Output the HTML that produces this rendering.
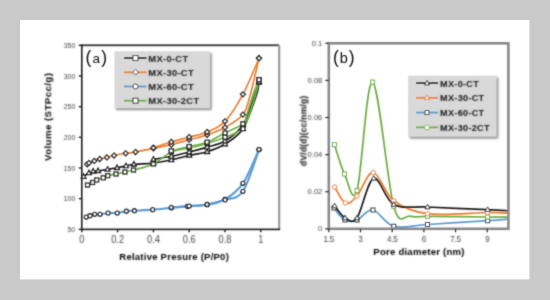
<!DOCTYPE html>
<html><head><meta charset="utf-8"><style>
html,body{margin:0;padding:0;width:550px;height:300px;overflow:hidden;background:#c9c9c9}
svg{display:block}
text{font-family:"Liberation Sans",sans-serif}
</style></head><body>
<svg width="550" height="300" viewBox="0 0 550 300">
<rect x="0" y="0" width="550" height="300" fill="#c9c9c9"/>
<rect x="20" y="20" width="509.4" height="259.4" fill="#ffffff"/>
<filter id="bl" x="-5%" y="-5%" width="110%" height="110%"><feConvolveMatrix order="3" kernelMatrix="0.03 0.09 0.03 0.09 0.52 0.09 0.03 0.09 0.03" edgeMode="none" preserveAlpha="false"/></filter><filter id="tb" x="-50%" y="-50%" width="200%" height="200%"><feConvolveMatrix order="3" kernelMatrix="0.025 0.075 0.025 0.075 0.6 0.075 0.025 0.075 0.025" edgeMode="none" preserveAlpha="false"/></filter>
<g filter="url(#bl)">
<path d="M83.59,176.55 C84.48,175.94 87.38,173.75 88.96,172.87 C90.54,171.99 91.56,171.63 93.08,171.28 C94.60,170.93 95.67,171.12 98.09,170.79 C100.51,170.46 104.41,169.82 107.58,169.32 C110.74,168.82 113.99,168.37 117.06,167.78 C120.14,167.20 123.21,166.40 126.01,165.82 C128.82,165.24 129.32,164.75 133.89,164.29 C138.45,163.83 147.16,163.78 153.40,163.06 C159.64,162.34 165.33,161.26 171.30,159.99 C177.27,158.73 183.23,156.82 189.20,155.45 C195.17,154.08 201.13,153.68 207.10,151.77 C213.07,149.87 219.03,147.89 225.00,144.05 C230.97,140.20 237.68,136.79 242.90,128.71 C248.12,120.64 253.64,103.36 256.32,95.59 C259.01,87.82 258.56,84.35 259.01,82.10" fill="none" stroke="#1f1f1f" stroke-width="1.65"/>
<path d="M259.01,82.10 C258.26,84.35 257.22,88.44 254.53,95.59 C251.85,102.75 247.82,117.47 242.90,125.03 C237.98,132.60 230.97,137.30 225.00,140.98 C219.03,144.66 213.07,145.27 207.10,147.11 C201.13,148.95 195.17,150.49 189.20,152.02 C183.23,153.55 177.27,155.09 171.30,156.31 C165.33,157.54 156.38,158.87 153.40,159.38" fill="none" stroke="#1f1f1f" stroke-width="1.65"/>
<path d="M87.17,164.29 C87.47,164.07 87.77,163.55 88.96,163.00 C90.15,162.45 92.54,161.64 94.33,160.97 C96.12,160.31 97.61,159.59 99.70,159.01 C101.79,158.43 104.47,158.06 106.86,157.48 C109.25,156.90 110.89,156.21 114.02,155.52 C117.15,154.82 122.08,153.89 125.66,153.31 C129.24,152.73 130.88,152.85 135.50,152.02 C140.12,151.19 147.43,149.57 153.40,148.34 C159.37,147.11 165.33,146.09 171.30,144.66 C177.27,143.23 183.23,141.39 189.20,139.75 C195.17,138.12 201.13,136.89 207.10,134.85 C213.07,132.80 219.03,130.86 225.00,127.49 C230.97,124.11 238.72,119.92 242.90,114.61 C247.08,109.29 247.38,105.00 250.06,95.59 C252.75,86.19 257.52,64.42 259.01,58.18" fill="none" stroke="#ed7d31" stroke-width="1.65"/>
<path d="M259.01,58.18 C256.32,64.21 248.57,83.84 242.90,94.37 C237.23,104.90 230.97,115.08 225.00,121.35 C219.03,127.63 213.07,129.41 207.10,132.03 C201.13,134.64 195.17,135.40 189.20,137.05 C183.23,138.71 177.27,140.18 171.30,141.96 C165.33,143.74 156.38,146.77 153.40,147.73" fill="none" stroke="#ed7d31" stroke-width="1.65"/>
<path d="M86.27,217.03 C86.90,216.81 88.63,216.14 90.03,215.68 C91.44,215.22 93.02,214.51 94.69,214.27 C96.36,214.04 97.82,214.49 100.06,214.27 C102.30,214.06 105.25,213.20 108.11,212.99 C110.98,212.77 114.20,213.28 117.24,212.99 C120.28,212.69 123.51,211.58 126.37,211.21 C129.23,210.83 130.04,210.97 134.43,210.72 C138.81,210.46 146.54,210.15 152.68,209.67 C158.83,209.19 165.51,208.39 171.30,207.83 C177.09,207.28 181.44,206.87 187.41,206.36 C193.38,205.85 200.83,205.95 207.10,204.77 C213.37,203.58 219.03,202.82 225.00,199.25 C230.97,195.67 237.23,191.58 242.90,183.30 C248.57,175.02 256.32,155.19 259.01,149.57" fill="none" stroke="#5b9bd5" stroke-width="2.1"/>
<path d="M259.01,149.57 C256.32,156.52 248.57,182.89 242.90,191.27 C237.23,199.66 230.97,197.66 225.00,199.86 C219.03,202.06 213.07,203.44 207.10,204.46 C201.13,205.48 195.17,205.48 189.20,205.99 C183.23,206.50 174.28,207.27 171.30,207.53" fill="none" stroke="#5b9bd5" stroke-width="2.1"/>
<path d="M87.53,185.02 C88.36,184.60 91.02,183.34 92.54,182.50 C94.06,181.66 94.87,180.78 96.66,179.99 C98.45,179.20 101.43,178.51 103.28,177.78 C105.13,177.05 105.64,176.27 107.75,175.63 C109.87,175.00 113.12,174.58 115.99,173.98 C118.85,173.37 122.02,172.68 124.94,172.01 C127.86,171.35 128.79,171.33 133.53,169.99 C138.27,168.65 147.11,166.98 153.40,163.98 C159.69,160.98 165.33,154.69 171.30,152.02 C177.27,149.35 183.23,149.40 189.20,147.97 C195.17,146.54 201.13,145.21 207.10,143.43 C213.07,141.65 219.03,139.75 225.00,137.30 C230.97,134.85 238.87,132.50 242.90,128.71 C246.93,124.93 247.11,120.19 249.17,114.61 C251.22,109.03 253.61,101.05 255.25,95.23 C256.89,89.40 258.38,82.24 259.01,79.65" fill="none" stroke="#70ad47" stroke-width="1.65"/>
<path d="M259.01,79.65 C258.00,82.24 254.95,89.40 252.92,95.23 C250.90,101.05 248.51,109.84 246.84,114.61 C245.17,119.37 246.54,120.74 242.90,123.81 C239.26,126.87 230.97,129.94 225.00,133.01 C219.03,136.07 213.07,139.96 207.10,142.21 C201.13,144.46 195.17,145.07 189.20,146.50 C183.23,147.93 174.28,150.08 171.30,150.79" fill="none" stroke="#70ad47" stroke-width="1.65"/>
<path d="M83.59,173.96 L85.99,178.28 L81.19,178.28Z" fill="#fff" stroke="#1a1a1a" stroke-width="1.3"/>
<path d="M88.96,170.28 L91.36,174.60 L86.56,174.60Z" fill="#fff" stroke="#1a1a1a" stroke-width="1.3"/>
<path d="M93.08,168.69 L95.48,173.01 L90.68,173.01Z" fill="#fff" stroke="#1a1a1a" stroke-width="1.3"/>
<path d="M98.09,168.20 L100.49,172.52 L95.69,172.52Z" fill="#fff" stroke="#1a1a1a" stroke-width="1.3"/>
<path d="M107.58,166.72 L109.98,171.04 L105.18,171.04Z" fill="#fff" stroke="#1a1a1a" stroke-width="1.3"/>
<path d="M117.06,165.19 L119.46,169.51 L114.66,169.51Z" fill="#fff" stroke="#1a1a1a" stroke-width="1.3"/>
<path d="M126.01,163.23 L128.41,167.55 L123.61,167.55Z" fill="#fff" stroke="#1a1a1a" stroke-width="1.3"/>
<path d="M133.89,161.69 L136.29,166.01 L131.49,166.01Z" fill="#fff" stroke="#1a1a1a" stroke-width="1.3"/>
<path d="M153.40,160.47 L155.80,164.79 L151.00,164.79Z" fill="#fff" stroke="#1a1a1a" stroke-width="1.3"/>
<path d="M171.30,157.40 L173.70,161.72 L168.90,161.72Z" fill="#fff" stroke="#1a1a1a" stroke-width="1.3"/>
<path d="M189.20,152.86 L191.60,157.18 L186.80,157.18Z" fill="#fff" stroke="#1a1a1a" stroke-width="1.3"/>
<path d="M207.10,149.18 L209.50,153.50 L204.70,153.50Z" fill="#fff" stroke="#1a1a1a" stroke-width="1.3"/>
<path d="M225.00,141.45 L227.40,145.77 L222.60,145.77Z" fill="#fff" stroke="#1a1a1a" stroke-width="1.3"/>
<path d="M242.90,126.12 L245.30,130.44 L240.50,130.44Z" fill="#fff" stroke="#1a1a1a" stroke-width="1.3"/>
<path d="M259.01,79.51 L261.41,83.83 L256.61,83.83Z" fill="#fff" stroke="#1a1a1a" stroke-width="1.3"/>
<path d="M259.01,79.51 L261.41,83.83 L256.61,83.83Z" fill="#fff" stroke="#1a1a1a" stroke-width="1.3"/>
<path d="M242.90,122.44 L245.30,126.76 L240.50,126.76Z" fill="#fff" stroke="#1a1a1a" stroke-width="1.3"/>
<path d="M225.00,138.39 L227.40,142.71 L222.60,142.71Z" fill="#fff" stroke="#1a1a1a" stroke-width="1.3"/>
<path d="M207.10,144.52 L209.50,148.84 L204.70,148.84Z" fill="#fff" stroke="#1a1a1a" stroke-width="1.3"/>
<path d="M189.20,149.43 L191.60,153.75 L186.80,153.75Z" fill="#fff" stroke="#1a1a1a" stroke-width="1.3"/>
<path d="M171.30,153.72 L173.70,158.04 L168.90,158.04Z" fill="#fff" stroke="#1a1a1a" stroke-width="1.3"/>
<path d="M153.40,156.79 L155.80,161.11 L151.00,161.11Z" fill="#fff" stroke="#1a1a1a" stroke-width="1.3"/>
<path d="M87.17,161.84 L89.62,164.29 L87.17,166.74 L84.72,164.29Z" fill="#fff" stroke="#1a1a1a" stroke-width="1.3"/>
<path d="M88.96,160.55 L91.41,163.00 L88.96,165.45 L86.51,163.00Z" fill="#fff" stroke="#1a1a1a" stroke-width="1.3"/>
<path d="M94.33,158.52 L96.78,160.97 L94.33,163.42 L91.88,160.97Z" fill="#fff" stroke="#1a1a1a" stroke-width="1.3"/>
<path d="M99.70,156.56 L102.15,159.01 L99.70,161.46 L97.25,159.01Z" fill="#fff" stroke="#1a1a1a" stroke-width="1.3"/>
<path d="M106.86,155.03 L109.31,157.48 L106.86,159.93 L104.41,157.48Z" fill="#fff" stroke="#1a1a1a" stroke-width="1.3"/>
<path d="M114.02,153.07 L116.47,155.52 L114.02,157.97 L111.57,155.52Z" fill="#fff" stroke="#1a1a1a" stroke-width="1.3"/>
<path d="M125.66,150.86 L128.10,153.31 L125.66,155.76 L123.20,153.31Z" fill="#fff" stroke="#1a1a1a" stroke-width="1.3"/>
<path d="M135.50,149.57 L137.95,152.02 L135.50,154.47 L133.05,152.02Z" fill="#fff" stroke="#1a1a1a" stroke-width="1.3"/>
<path d="M153.40,145.89 L155.85,148.34 L153.40,150.79 L150.95,148.34Z" fill="#fff" stroke="#1a1a1a" stroke-width="1.3"/>
<path d="M171.30,142.21 L173.75,144.66 L171.30,147.11 L168.85,144.66Z" fill="#fff" stroke="#1a1a1a" stroke-width="1.3"/>
<path d="M189.20,137.30 L191.65,139.75 L189.20,142.20 L186.75,139.75Z" fill="#fff" stroke="#1a1a1a" stroke-width="1.3"/>
<path d="M207.10,132.40 L209.55,134.85 L207.10,137.30 L204.65,134.85Z" fill="#fff" stroke="#1a1a1a" stroke-width="1.3"/>
<path d="M225.00,125.04 L227.45,127.49 L225.00,129.94 L222.55,127.49Z" fill="#fff" stroke="#1a1a1a" stroke-width="1.3"/>
<path d="M242.90,112.16 L245.35,114.61 L242.90,117.06 L240.45,114.61Z" fill="#fff" stroke="#1a1a1a" stroke-width="1.3"/>
<path d="M259.01,55.73 L261.46,58.18 L259.01,60.63 L256.56,58.18Z" fill="#fff" stroke="#1a1a1a" stroke-width="1.3"/>
<path d="M259.01,55.73 L261.46,58.18 L259.01,60.63 L256.56,58.18Z" fill="#fff" stroke="#1a1a1a" stroke-width="1.3"/>
<path d="M242.90,91.92 L245.35,94.37 L242.90,96.82 L240.45,94.37Z" fill="#fff" stroke="#1a1a1a" stroke-width="1.3"/>
<path d="M225.00,118.90 L227.45,121.35 L225.00,123.80 L222.55,121.35Z" fill="#fff" stroke="#1a1a1a" stroke-width="1.3"/>
<path d="M207.10,129.58 L209.55,132.03 L207.10,134.48 L204.65,132.03Z" fill="#fff" stroke="#1a1a1a" stroke-width="1.3"/>
<path d="M189.20,134.60 L191.65,137.05 L189.20,139.50 L186.75,137.05Z" fill="#fff" stroke="#1a1a1a" stroke-width="1.3"/>
<path d="M171.30,139.51 L173.75,141.96 L171.30,144.41 L168.85,141.96Z" fill="#fff" stroke="#1a1a1a" stroke-width="1.3"/>
<path d="M153.40,145.28 L155.85,147.73 L153.40,150.18 L150.95,147.73Z" fill="#fff" stroke="#1a1a1a" stroke-width="1.3"/>
<circle cx="86.27" cy="217.03" r="1.95" fill="#fff" stroke="#1a1a1a" stroke-width="1.3"/>
<circle cx="90.03" cy="215.68" r="1.95" fill="#fff" stroke="#1a1a1a" stroke-width="1.3"/>
<circle cx="94.69" cy="214.27" r="1.95" fill="#fff" stroke="#1a1a1a" stroke-width="1.3"/>
<circle cx="100.06" cy="214.27" r="1.95" fill="#fff" stroke="#1a1a1a" stroke-width="1.3"/>
<circle cx="108.11" cy="212.99" r="1.95" fill="#fff" stroke="#1a1a1a" stroke-width="1.3"/>
<circle cx="117.24" cy="212.99" r="1.95" fill="#fff" stroke="#1a1a1a" stroke-width="1.3"/>
<circle cx="126.37" cy="211.21" r="1.95" fill="#fff" stroke="#1a1a1a" stroke-width="1.3"/>
<circle cx="134.43" cy="210.72" r="1.95" fill="#fff" stroke="#1a1a1a" stroke-width="1.3"/>
<circle cx="152.68" cy="209.67" r="1.95" fill="#fff" stroke="#1a1a1a" stroke-width="1.3"/>
<circle cx="171.30" cy="207.83" r="1.95" fill="#fff" stroke="#1a1a1a" stroke-width="1.3"/>
<circle cx="187.41" cy="206.36" r="1.95" fill="#fff" stroke="#1a1a1a" stroke-width="1.3"/>
<circle cx="207.10" cy="204.77" r="1.95" fill="#fff" stroke="#1a1a1a" stroke-width="1.3"/>
<circle cx="225.00" cy="199.25" r="1.95" fill="#fff" stroke="#1a1a1a" stroke-width="1.3"/>
<circle cx="242.90" cy="183.30" r="1.95" fill="#fff" stroke="#1a1a1a" stroke-width="1.3"/>
<circle cx="259.01" cy="149.57" r="1.95" fill="#fff" stroke="#1a1a1a" stroke-width="1.3"/>
<circle cx="259.01" cy="149.57" r="1.95" fill="#fff" stroke="#1a1a1a" stroke-width="1.3"/>
<circle cx="242.90" cy="191.27" r="1.95" fill="#fff" stroke="#1a1a1a" stroke-width="1.3"/>
<circle cx="225.00" cy="199.86" r="1.95" fill="#fff" stroke="#1a1a1a" stroke-width="1.3"/>
<circle cx="207.10" cy="204.46" r="1.95" fill="#fff" stroke="#1a1a1a" stroke-width="1.3"/>
<circle cx="189.20" cy="205.99" r="1.95" fill="#fff" stroke="#1a1a1a" stroke-width="1.3"/>
<circle cx="171.30" cy="207.53" r="1.95" fill="#fff" stroke="#1a1a1a" stroke-width="1.3"/>
<rect x="85.58" y="183.07" width="3.90" height="3.90" fill="#fff" stroke="#1a1a1a" stroke-width="1.3"/>
<rect x="90.59" y="180.55" width="3.90" height="3.90" fill="#fff" stroke="#1a1a1a" stroke-width="1.3"/>
<rect x="94.71" y="178.04" width="3.90" height="3.90" fill="#fff" stroke="#1a1a1a" stroke-width="1.3"/>
<rect x="101.33" y="175.83" width="3.90" height="3.90" fill="#fff" stroke="#1a1a1a" stroke-width="1.3"/>
<rect x="105.80" y="173.68" width="3.90" height="3.90" fill="#fff" stroke="#1a1a1a" stroke-width="1.3"/>
<rect x="114.04" y="172.03" width="3.90" height="3.90" fill="#fff" stroke="#1a1a1a" stroke-width="1.3"/>
<rect x="122.99" y="170.06" width="3.90" height="3.90" fill="#fff" stroke="#1a1a1a" stroke-width="1.3"/>
<rect x="131.58" y="168.04" width="3.90" height="3.90" fill="#fff" stroke="#1a1a1a" stroke-width="1.3"/>
<rect x="151.45" y="162.03" width="3.90" height="3.90" fill="#fff" stroke="#1a1a1a" stroke-width="1.3"/>
<rect x="169.35" y="150.07" width="3.90" height="3.90" fill="#fff" stroke="#1a1a1a" stroke-width="1.3"/>
<rect x="187.25" y="146.02" width="3.90" height="3.90" fill="#fff" stroke="#1a1a1a" stroke-width="1.3"/>
<rect x="205.15" y="141.48" width="3.90" height="3.90" fill="#fff" stroke="#1a1a1a" stroke-width="1.3"/>
<rect x="223.05" y="135.35" width="3.90" height="3.90" fill="#fff" stroke="#1a1a1a" stroke-width="1.3"/>
<rect x="240.95" y="126.76" width="3.90" height="3.90" fill="#fff" stroke="#1a1a1a" stroke-width="1.3"/>
<rect x="257.06" y="77.70" width="3.90" height="3.90" fill="#fff" stroke="#1a1a1a" stroke-width="1.3"/>
<rect x="257.06" y="77.70" width="3.90" height="3.90" fill="#fff" stroke="#1a1a1a" stroke-width="1.3"/>
<rect x="240.95" y="121.86" width="3.90" height="3.90" fill="#fff" stroke="#1a1a1a" stroke-width="1.3"/>
<rect x="223.05" y="131.06" width="3.90" height="3.90" fill="#fff" stroke="#1a1a1a" stroke-width="1.3"/>
<rect x="205.15" y="140.26" width="3.90" height="3.90" fill="#fff" stroke="#1a1a1a" stroke-width="1.3"/>
<rect x="187.25" y="144.55" width="3.90" height="3.90" fill="#fff" stroke="#1a1a1a" stroke-width="1.3"/>
<rect x="169.35" y="148.84" width="3.90" height="3.90" fill="#fff" stroke="#1a1a1a" stroke-width="1.3"/>
<line x1="81.8" y1="45.3" x2="279.2" y2="45.3" stroke="#4a4a4a" stroke-width="2"/>
<line x1="279.2" y1="45.3" x2="279.2" y2="229.3" stroke="#9a9a9a" stroke-width="2.2"/>
<line x1="81.8" y1="44.3" x2="81.8" y2="230.3" stroke="#2a2a2a" stroke-width="1.7"/>
<line x1="80.8" y1="229.3" x2="280.2" y2="229.3" stroke="#2a2a2a" stroke-width="1.7"/>
<line x1="78.8" y1="45.30" x2="81.8" y2="45.30" stroke="#2a2a2a" stroke-width="1.5"/>
<text filter="url(#tb)" transform="translate(75.20,47.90) scale(0.86,1)" text-anchor="end" font-size="8" fill="#444">350</text>
<line x1="78.8" y1="75.97" x2="81.8" y2="75.97" stroke="#2a2a2a" stroke-width="1.5"/>
<text filter="url(#tb)" transform="translate(75.20,78.57) scale(0.86,1)" text-anchor="end" font-size="8" fill="#444">300</text>
<line x1="78.8" y1="106.63" x2="81.8" y2="106.63" stroke="#2a2a2a" stroke-width="1.5"/>
<text filter="url(#tb)" transform="translate(75.20,109.23) scale(0.86,1)" text-anchor="end" font-size="8" fill="#444">250</text>
<line x1="78.8" y1="137.30" x2="81.8" y2="137.30" stroke="#2a2a2a" stroke-width="1.5"/>
<text filter="url(#tb)" transform="translate(75.20,139.90) scale(0.86,1)" text-anchor="end" font-size="8" fill="#444">200</text>
<line x1="78.8" y1="167.97" x2="81.8" y2="167.97" stroke="#2a2a2a" stroke-width="1.5"/>
<text filter="url(#tb)" transform="translate(75.20,170.57) scale(0.86,1)" text-anchor="end" font-size="8" fill="#444">150</text>
<line x1="78.8" y1="198.63" x2="81.8" y2="198.63" stroke="#2a2a2a" stroke-width="1.5"/>
<text filter="url(#tb)" transform="translate(75.20,201.23) scale(0.86,1)" text-anchor="end" font-size="8" fill="#444">100</text>
<line x1="78.8" y1="229.30" x2="81.8" y2="229.30" stroke="#2a2a2a" stroke-width="1.5"/>
<text filter="url(#tb)" transform="translate(75.20,231.90) scale(0.86,1)" text-anchor="end" font-size="8" fill="#444">50</text>
<line x1="81.80" y1="229.3" x2="81.80" y2="232.3" stroke="#2a2a2a" stroke-width="1.5"/>
<text filter="url(#tb)" transform="translate(81.80,243.3) scale(0.87,1)" text-anchor="middle" font-size="10.6" fill="#444">0</text>
<line x1="117.60" y1="229.3" x2="117.60" y2="232.3" stroke="#2a2a2a" stroke-width="1.5"/>
<text filter="url(#tb)" transform="translate(117.60,243.3) scale(0.87,1)" text-anchor="middle" font-size="10.6" fill="#444">0.2</text>
<line x1="153.40" y1="229.3" x2="153.40" y2="232.3" stroke="#2a2a2a" stroke-width="1.5"/>
<text filter="url(#tb)" transform="translate(153.40,243.3) scale(0.87,1)" text-anchor="middle" font-size="10.6" fill="#444">0.4</text>
<line x1="189.20" y1="229.3" x2="189.20" y2="232.3" stroke="#2a2a2a" stroke-width="1.5"/>
<text filter="url(#tb)" transform="translate(189.20,243.3) scale(0.87,1)" text-anchor="middle" font-size="10.6" fill="#444">0.6</text>
<line x1="225.00" y1="229.3" x2="225.00" y2="232.3" stroke="#2a2a2a" stroke-width="1.5"/>
<text filter="url(#tb)" transform="translate(225.00,243.3) scale(0.87,1)" text-anchor="middle" font-size="10.6" fill="#444">0.8</text>
<line x1="260.80" y1="229.3" x2="260.80" y2="232.3" stroke="#2a2a2a" stroke-width="1.5"/>
<text filter="url(#tb)" transform="translate(260.80,243.3) scale(0.87,1)" text-anchor="middle" font-size="10.6" fill="#444">1</text>
<text filter="url(#tb)" x="119.3" y="259.6" font-size="9.5" letter-spacing="0.25" font-weight="bold" fill="#000">Relative Presure (P/P0)</text>
<text filter="url(#tb)" transform="translate(51.2,161) rotate(-90)" font-size="9.7" letter-spacing="0.42" font-weight="bold" fill="#000">Volume (STPcc/g)</text>
<text x="85.4" y="63" font-size="17.5" fill="#111" class="nf">(<tspan font-size="13.5" dx="1.3">a</tspan><tspan dx="1.3">)</tspan></text>
<filter id="sh" x="-20%" y="-20%" width="140%" height="140%"><feGaussianBlur stdDeviation="1.3"/></filter>
<rect x="116" y="53" width="95.5" height="57" fill="#8a8a8a" filter="url(#sh)"/>
<rect x="114.5" y="51.3" width="95.5" height="57" fill="#d9d9d9"/>
<line x1="124" y1="58.10" x2="146.5" y2="58.10" stroke="#1f1f1f" stroke-width="1.8"/>
<rect x="133.00" y="55.60" width="5.00" height="5.00" fill="#fff" stroke="#222" stroke-width="0.9"/>
<text filter="url(#tb)" x="148.3" y="61.60" font-size="9.4" letter-spacing="0.3" font-weight="bold" fill="#000">MX-0-CT</text>
<line x1="124" y1="72.30" x2="146.5" y2="72.30" stroke="#ed7d31" stroke-width="1.8"/>
<path d="M135.50,69.55 L138.25,72.30 L135.50,75.05 L132.75,72.30Z" fill="#fff" stroke="#222" stroke-width="0.9"/>
<text filter="url(#tb)" x="148.3" y="75.80" font-size="9.4" letter-spacing="0.3" font-weight="bold" fill="#000">MX-30-CT</text>
<line x1="124" y1="86.50" x2="146.5" y2="86.50" stroke="#5b9bd5" stroke-width="1.8"/>
<circle cx="135.50" cy="86.50" r="2.50" fill="#fff" stroke="#222" stroke-width="0.9"/>
<text filter="url(#tb)" x="148.3" y="90.00" font-size="9.4" letter-spacing="0.3" font-weight="bold" fill="#000">MX-60-CT</text>
<line x1="124" y1="100.70" x2="146.5" y2="100.70" stroke="#70ad47" stroke-width="1.8"/>
<rect x="133.00" y="98.20" width="5.00" height="5.00" fill="#fff" stroke="#222" stroke-width="0.9"/>
<text filter="url(#tb)" x="148.3" y="104.20" font-size="9.4" letter-spacing="0.3" font-weight="bold" fill="#000">MX-30-2CT</text>
<clipPath id="cb"><rect x="328.8" y="43.3" width="179.59999999999997" height="185.5"/></clipPath>
<g clip-path="url(#cb)">
<path d="M334.00,208.00 C335.83,210.00 341.17,218.00 345.00,220.00 C348.83,222.00 352.33,221.67 357.00,220.00 C361.67,218.33 366.88,208.95 373.00,210.00 C379.12,211.05 384.67,223.88 393.75,226.30 C402.83,228.72 411.86,225.43 427.50,224.50 C443.14,223.57 474.12,221.58 487.60,220.70 C501.08,219.82 504.93,219.45 508.40,219.20" fill="none" stroke="#5b9bd5" stroke-width="1.75"/>
<path d="M334.50,144.70 C336.17,149.58 340.75,166.35 344.50,174.00 C348.25,181.65 352.32,205.92 357.00,190.60 C361.68,175.28 366.48,79.48 372.60,82.10 C378.73,84.72 387.52,183.95 393.75,206.30 C399.98,228.65 404.38,214.53 410.00,216.20 C415.62,217.87 414.57,216.17 427.50,216.30 C440.43,216.43 474.12,216.88 487.60,217.00 C501.08,217.12 504.93,217.00 508.40,217.00" fill="none" stroke="#70ad47" stroke-width="1.75"/>
<path d="M334.60,187.00 C336.40,189.67 341.67,201.50 345.40,203.00 C349.13,204.50 352.35,201.08 357.00,196.00 C361.65,190.92 367.18,171.70 373.30,172.50 C379.43,173.30 384.72,193.93 393.75,200.80 C402.78,207.67 411.86,211.75 427.50,213.70 C443.14,215.65 474.12,212.58 487.60,212.50 C501.08,212.42 504.93,213.08 508.40,213.20" fill="none" stroke="#ed7d31" stroke-width="1.75"/>
<path d="M334.60,206.00 C336.33,208.00 341.27,216.00 345.00,218.00 C348.73,220.00 352.22,224.62 357.00,218.00 C361.78,211.38 367.57,180.55 373.70,178.30 C379.82,176.05 384.78,199.72 393.75,204.50 C402.72,209.28 411.86,206.15 427.50,207.00 C443.14,207.85 474.12,208.97 487.60,209.60 C501.08,210.23 504.93,210.60 508.40,210.80" fill="none" stroke="#1f1f1f" stroke-width="1.75"/>
<rect x="332.00" y="206.00" width="4.00" height="4.00" fill="#fff" stroke="#333" stroke-width="1.0"/>
<rect x="343.00" y="218.00" width="4.00" height="4.00" fill="#fff" stroke="#333" stroke-width="1.0"/>
<rect x="355.00" y="218.00" width="4.00" height="4.00" fill="#fff" stroke="#333" stroke-width="1.0"/>
<rect x="371.00" y="208.00" width="4.00" height="4.00" fill="#fff" stroke="#333" stroke-width="1.0"/>
<rect x="391.75" y="224.30" width="4.00" height="4.00" fill="#fff" stroke="#333" stroke-width="1.0"/>
<rect x="425.50" y="222.50" width="4.00" height="4.00" fill="#fff" stroke="#333" stroke-width="1.0"/>
<rect x="485.60" y="218.70" width="4.00" height="4.00" fill="#fff" stroke="#333" stroke-width="1.0"/>
<rect x="332.50" y="142.70" width="4.00" height="4.00" fill="#fff" stroke="#70ad47" stroke-width="1.0"/>
<rect x="342.50" y="172.00" width="4.00" height="4.00" fill="#fff" stroke="#70ad47" stroke-width="1.0"/>
<rect x="355.00" y="188.60" width="4.00" height="4.00" fill="#fff" stroke="#70ad47" stroke-width="1.0"/>
<rect x="370.60" y="80.10" width="4.00" height="4.00" fill="#fff" stroke="#70ad47" stroke-width="1.0"/>
<rect x="391.75" y="204.30" width="4.00" height="4.00" fill="#fff" stroke="#70ad47" stroke-width="1.0"/>
<rect x="425.50" y="214.30" width="4.00" height="4.00" fill="#fff" stroke="#70ad47" stroke-width="1.0"/>
<rect x="485.60" y="215.00" width="4.00" height="4.00" fill="#fff" stroke="#70ad47" stroke-width="1.0"/>
<circle cx="334.60" cy="187.00" r="2.20" fill="#fff" stroke="#ed7d31" stroke-width="1.0"/>
<circle cx="345.40" cy="203.00" r="2.20" fill="#fff" stroke="#ed7d31" stroke-width="1.0"/>
<circle cx="357.00" cy="196.00" r="2.20" fill="#fff" stroke="#ed7d31" stroke-width="1.0"/>
<circle cx="373.30" cy="172.50" r="2.20" fill="#fff" stroke="#ed7d31" stroke-width="1.0"/>
<circle cx="393.75" cy="200.80" r="2.20" fill="#fff" stroke="#ed7d31" stroke-width="1.0"/>
<circle cx="427.50" cy="213.70" r="2.20" fill="#fff" stroke="#ed7d31" stroke-width="1.0"/>
<circle cx="487.60" cy="212.50" r="2.20" fill="#fff" stroke="#ed7d31" stroke-width="1.0"/>
<path d="M334.60,203.30 L337.10,207.80 L332.10,207.80Z" fill="#fff" stroke="#222" stroke-width="1.0"/>
<path d="M345.00,215.30 L347.50,219.80 L342.50,219.80Z" fill="#fff" stroke="#222" stroke-width="1.0"/>
<path d="M357.00,215.30 L359.50,219.80 L354.50,219.80Z" fill="#fff" stroke="#222" stroke-width="1.0"/>
<path d="M373.70,175.60 L376.20,180.10 L371.20,180.10Z" fill="#fff" stroke="#222" stroke-width="1.0"/>
<path d="M393.75,201.80 L396.25,206.30 L391.25,206.30Z" fill="#fff" stroke="#222" stroke-width="1.0"/>
<path d="M427.50,204.30 L430.00,208.80 L425.00,208.80Z" fill="#fff" stroke="#222" stroke-width="1.0"/>
<path d="M487.60,206.90 L490.10,211.40 L485.10,211.40Z" fill="#fff" stroke="#222" stroke-width="1.0"/>
</g>
<rect x="328.8" y="43.3" width="179.59999999999997" height="185.5" fill="none" stroke="#8a8a8a" stroke-width="2.6"/>
<line x1="325.3" y1="43.30" x2="328.8" y2="43.30" stroke="#333" stroke-width="1.3"/>
<text filter="url(#tb)" transform="translate(322.30,45.90) scale(0.97,1)" text-anchor="end" font-size="7.8" fill="#444">0.1</text>
<line x1="325.3" y1="80.40" x2="328.8" y2="80.40" stroke="#333" stroke-width="1.3"/>
<text filter="url(#tb)" transform="translate(322.30,83.00) scale(0.97,1)" text-anchor="end" font-size="7.8" fill="#444">0.08</text>
<line x1="325.3" y1="117.50" x2="328.8" y2="117.50" stroke="#333" stroke-width="1.3"/>
<text filter="url(#tb)" transform="translate(322.30,120.10) scale(0.97,1)" text-anchor="end" font-size="7.8" fill="#444">0.06</text>
<line x1="325.3" y1="154.60" x2="328.8" y2="154.60" stroke="#333" stroke-width="1.3"/>
<text filter="url(#tb)" transform="translate(322.30,157.20) scale(0.97,1)" text-anchor="end" font-size="7.8" fill="#444">0.04</text>
<line x1="325.3" y1="191.70" x2="328.8" y2="191.70" stroke="#333" stroke-width="1.3"/>
<text filter="url(#tb)" transform="translate(322.30,194.30) scale(0.97,1)" text-anchor="end" font-size="7.8" fill="#444">0.02</text>
<line x1="325.3" y1="228.80" x2="328.8" y2="228.80" stroke="#333" stroke-width="1.3"/>
<text filter="url(#tb)" transform="translate(322.30,231.40) scale(0.97,1)" text-anchor="end" font-size="7.8" fill="#444">0</text>
<line x1="328.80" y1="228.8" x2="328.80" y2="232.3" stroke="#333" stroke-width="1.3"/>
<text filter="url(#tb)" transform="translate(328.80,242) scale(0.84,1)" text-anchor="middle" font-size="9.6" letter-spacing="-0.3" fill="#444">1.5</text>
<line x1="360.49" y1="228.8" x2="360.49" y2="232.3" stroke="#333" stroke-width="1.3"/>
<text filter="url(#tb)" transform="translate(360.49,242) scale(0.84,1)" text-anchor="middle" font-size="9.6" letter-spacing="-0.3" fill="#444">3</text>
<line x1="392.19" y1="228.8" x2="392.19" y2="232.3" stroke="#333" stroke-width="1.3"/>
<text filter="url(#tb)" transform="translate(392.19,242) scale(0.84,1)" text-anchor="middle" font-size="9.6" letter-spacing="-0.3" fill="#444">4.5</text>
<line x1="423.88" y1="228.8" x2="423.88" y2="232.3" stroke="#333" stroke-width="1.3"/>
<text filter="url(#tb)" transform="translate(423.88,242) scale(0.84,1)" text-anchor="middle" font-size="9.6" letter-spacing="-0.3" fill="#444">6</text>
<line x1="455.58" y1="228.8" x2="455.58" y2="232.3" stroke="#333" stroke-width="1.3"/>
<text filter="url(#tb)" transform="translate(455.58,242) scale(0.84,1)" text-anchor="middle" font-size="9.6" letter-spacing="-0.3" fill="#444">7.5</text>
<line x1="487.27" y1="228.8" x2="487.27" y2="232.3" stroke="#333" stroke-width="1.3"/>
<text filter="url(#tb)" transform="translate(487.27,242) scale(0.84,1)" text-anchor="middle" font-size="9.6" letter-spacing="-0.3" fill="#444">9</text>
<text filter="url(#tb)" x="373.3" y="254.6" font-size="9.6" letter-spacing="0.22" font-weight="bold" fill="#000">Pore diameter (nm)</text>
<text filter="url(#tb)" transform="translate(306.5,166.2) rotate(-90)" font-size="8.5" letter-spacing="0.22" font-weight="bold" fill="#000">dV/d(d)(cc/nm/g)</text>
<text x="333" y="63" font-size="17.5" fill="#111" class="nf">(<tspan font-size="14.5" dx="0.9">b</tspan><tspan dx="1">)</tspan></text>
<rect x="409.7" y="77.5" width="88.5" height="61" fill="#8a8a8a" filter="url(#sh)"/>
<rect x="408.2" y="75.8" width="88.5" height="61" fill="#d9d9d9"/>
<line x1="416" y1="83.10" x2="438" y2="83.10" stroke="#1f1f1f" stroke-width="1.8"/>
<path d="M427.00,80.40 L429.50,84.90 L424.50,84.90Z" fill="#fff" stroke="#222" stroke-width="0.9"/>
<text filter="url(#tb)" x="440.1" y="86.50" font-size="9.1" letter-spacing="0.3" font-weight="bold" fill="#000">MX-0-CT</text>
<line x1="416" y1="97.85" x2="438" y2="97.85" stroke="#ed7d31" stroke-width="1.8"/>
<path d="M427.00,95.15 L429.50,99.65 L424.50,99.65Z" fill="#fff" stroke="#ed7d31" stroke-width="0.9"/>
<text filter="url(#tb)" x="440.1" y="101.25" font-size="9.1" letter-spacing="0.3" font-weight="bold" fill="#000">MX-30-CT</text>
<line x1="416" y1="112.60" x2="438" y2="112.60" stroke="#5b9bd5" stroke-width="1.8"/>
<rect x="425.00" y="110.60" width="4.00" height="4.00" fill="#fff" stroke="#333" stroke-width="0.9"/>
<text filter="url(#tb)" x="440.1" y="116.00" font-size="9.1" letter-spacing="0.3" font-weight="bold" fill="#000">MX-60-CT</text>
<line x1="416" y1="127.35" x2="438" y2="127.35" stroke="#70ad47" stroke-width="1.8"/>
<circle cx="427.00" cy="127.35" r="2.50" fill="#fff" stroke="#70ad47" stroke-width="0.9"/>
<text filter="url(#tb)" x="440.1" y="130.75" font-size="9.1" letter-spacing="0.3" font-weight="bold" fill="#000">MX-30-2CT</text>
</g>
</svg>
</body></html>
